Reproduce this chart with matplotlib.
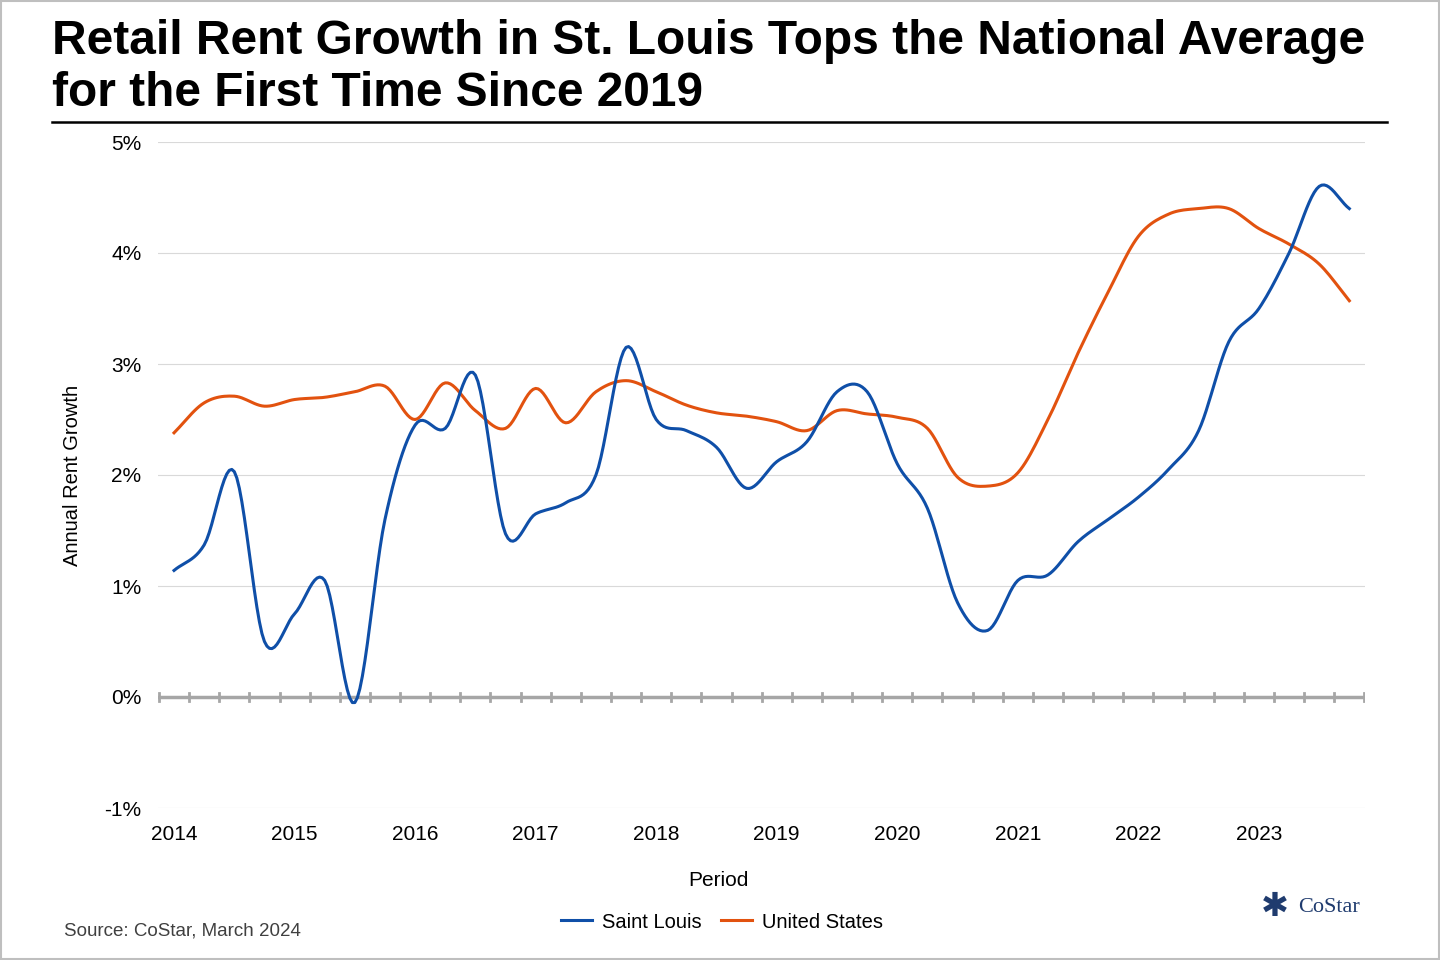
import numpy as np
import matplotlib.pyplot as plt
from matplotlib.lines import Line2D

plt.rcParams['font.family'] = ['Liberation Sans', 'DejaVu Sans']

# quarterly data, 2014 Q1 .. 2023 Q4
anos = 2014 + np.arange(40) * 0.25
saint_louis = [1.14, 1.37, 2.03, 0.5, 0.75, 1.05, -0.05, 1.6, 2.45, 2.42,
               2.9, 1.47, 1.65, 1.75, 2.0, 3.15, 2.5, 2.4, 2.25, 1.88,
               2.12, 2.3, 2.75, 2.75, 2.1, 1.7, 0.85, 0.6, 1.05, 1.1,
               1.4, 1.6, 1.8, 2.05, 2.4, 3.2, 3.5, 4.0, 4.6, 4.4]
estados_unidos = [2.38, 2.65, 2.71, 2.62, 2.68, 2.7, 2.75, 2.8, 2.5, 2.83,
                  2.58, 2.42, 2.78, 2.47, 2.75, 2.85, 2.75, 2.63, 2.56, 2.53,
                  2.48, 2.4, 2.58, 2.55, 2.52, 2.42, 1.98, 1.9, 2.02, 2.5,
                  3.1, 3.65, 4.15, 4.35, 4.4, 4.4, 4.22, 4.08, 3.9, 3.57]
anos_ticks = list(range(2014, 2024))
y_ticks = [-1, 0, 1, 2, 3, 4, 5]

def suaviza(x, y, n=12):
    # curva Catmull-Rom passando pelos pontos
    x = np.asarray(x, float); y = np.asarray(y, float)
    px = np.concatenate([[2*x[0]-x[1]], x, [2*x[-1]-x[-2]]])
    py = np.concatenate([[2*y[0]-y[1]], y, [2*y[-1]-y[-2]]])
    t = np.linspace(0, 1, n, endpoint=False)
    xs, ys = [], []
    for i in range(1, len(px) - 2):
        for p, out in ((px, xs), (py, ys)):
            p0, p1, p2, p3 = p[i-1], p[i], p[i+1], p[i+2]
            out.append(0.5*((2*p1) + (-p0+p2)*t + (2*p0-5*p1+4*p2-p3)*t**2
                            + (-p0+3*p1-3*p2+p3)*t**3))
    xs.append([x[-1]]); ys.append([y[-1]])
    return np.concatenate(xs), np.concatenate(ys)

fig = plt.figure(figsize=(14.4, 9.6), dpi=100)
ax = fig.add_axes([158/1440, 1-808/960, (1365-158)/1440, (808-142)/960])

for v in y_ticks:
    if v != 0:
        ax.axhline(v, color='#d9d9d9', lw=0.8, zorder=0)
ax.axhline(0, color='#a6a6a6', lw=2.5, zorder=1)
for q in np.arange(2013.875, 2023.9, 0.25):
    ax.plot([q, q], [-0.04, 0.04], color='#a6a6a6', lw=2, zorder=1)

xs, ys = suaviza(anos, saint_louis)
ax.plot(xs, ys, color='#0f4fa8', lw=2.2, zorder=3)
xs, ys = suaviza(anos, estados_unidos)
ax.plot(xs, ys, color='#e2520f', lw=2.2, zorder=2)

ax.set_xlim(2013.867, 2023.88)
ax.set_ylim(-1, 5)
ax.set_yticks(y_ticks)
ax.set_yticklabels([f'{v}%' for v in y_ticks], fontsize=15)
ax.set_xticks(anos_ticks)
ax.set_xticklabels([str(a) for a in anos_ticks], fontsize=15)
ax.tick_params(length=0, pad=12)
for s in ax.spines.values():
    s.set_visible(False)
ax.set_ylabel('Annual Rent Growth', fontsize=14.5, labelpad=16)

fig.text(718/1440, 1-881/960, 'Period', fontsize=15, ha='center', va='center')
fig.text(52/1440, 1-42/960, 'Retail Rent Growth in St. Louis Tops the National Average',
         fontsize=34.5, fontweight='bold', va='center')
fig.text(52/1440, 1-94/960, 'for the First Time Since 2019',
         fontsize=34.5, fontweight='bold', va='center')
fig.add_artist(Line2D([52/1440, 1387/1440], [1-122/960]*2, color='black', lw=1.8))
fig.add_artist(plt.Rectangle((0.001, 0.001), 0.998, 0.998, fill=False,
                             edgecolor='#bfbfbf', lw=1.5, transform=fig.transFigure))

handles = [Line2D([], [], color='#0f4fa8', lw=2.2), Line2D([], [], color='#e2520f', lw=2.2)]
fig.legend(handles, ['Saint Louis', 'United States'], loc='center',
           bbox_to_anchor=(722/1440, 1-922/960), ncol=2, frameon=False,
           fontsize=14.5, handlelength=1.5, handletextpad=0.5, columnspacing=1.0)
fig.text(64/1440, 1-931/960, 'Source: CoStar, March 2024', fontsize=13.5, color='#404040', va='center')
fig.text(1298/1440, 1-908/960, 'CoStar', fontsize=16, family='Liberation Serif', color='#1f3b6e', va='center')
fig.text(1275/1440, 1-906/960, '✱', fontsize=24, color='#1f3b6e', va='center', ha='center',
         family='DejaVu Sans')

fig.savefig('out.png', dpi=100)
